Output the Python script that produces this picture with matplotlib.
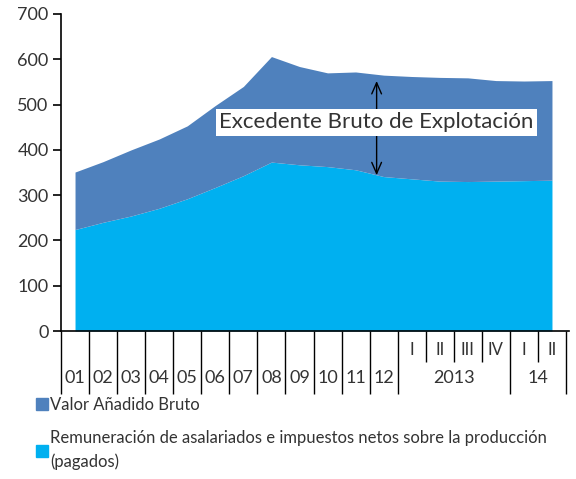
import matplotlib
matplotlib.use("Agg")
import matplotlib.pyplot as plt
from matplotlib.patches import Patch
from matplotlib.transforms import blended_transform_factory
import numpy as np

# Data
years = ['01', '02', '03', '04', '05', '06', '07', '08', '09', '10', '11', '12']
quarters = ['I', 'II', 'III', 'IV', 'I', 'II']
quarter_years = ['2013', '14']
vab = [351, 374, 400, 424, 453, 498, 540, 606, 584, 570, 572, 565,
       562, 560, 559, 553, 552, 553]
rem = [224, 240, 254, 271, 292, 317, 343, 373, 367, 363, 356, 341,
       336, 331, 330, 331, 332, 333]

dark_blue = '#4F81BD'
light_blue = '#00B0F0'
txt = '#333333'

plt.rcParams['font.family'] = ['Lato', 'DejaVu Sans']

fig = plt.figure(figsize=(5.76, 4.79), dpi=100)
ax = fig.add_axes([61/576, 1 - 331/479, 505/576, 317/479])

x = np.arange(len(vab))
ax.fill_between(x, 0, rem, color=light_blue, linewidth=0)
ax.fill_between(x, rem, vab, color=dark_blue, linewidth=0)

ax.set_xlim(-0.5, len(vab) - 0.5)
ax.set_ylim(0, 700)
ax.set_yticks(range(0, 701, 100))
ax.tick_params(axis='y', length=6, width=1.2, labelsize=13, labelcolor=txt,
               color='black', pad=3)
for s in ['top', 'right']:
    ax.spines[s].set_visible(False)
ax.spines['left'].set_linewidth(1.2)
ax.spines['bottom'].set_linewidth(1.2)
ax.spines['bottom'].set_bounds(-0.5, 17.6)

# category separators: long ticks for years/blocks, short for quarters
n_years = len(years)
long_b = [b - 0.5 for b in range(n_years + 1)] + [15.5, 17.5]
short_b = [12.5, 13.5, 14.5, 16.5]
ax.set_xticks(long_b)
ax.set_xticks(short_b, minor=True)
ax.set_xticklabels([])
ax.tick_params(axis='x', which='major', length=45, width=1.0, color='black')
ax.tick_params(axis='x', which='minor', length=22, width=1.0, color='black')

tr = blended_transform_factory(ax.transData, ax.transAxes)
for i, lab in enumerate(years):
    ax.text(i, -0.148, lab, transform=tr, ha='center', va='center',
            fontsize=13, color=txt)
for i, lab in enumerate(quarters):
    ax.text(n_years + i, -0.06, lab, transform=tr, ha='center', va='center',
            fontsize=12, color=txt)
ax.text(13.5, -0.148, quarter_years[0], transform=tr, ha='center', va='center',
        fontsize=13, color=txt)
ax.text(16.5, -0.148, quarter_years[1], transform=tr, ha='center', va='center',
        fontsize=13, color=txt)

# Excedente annotation
ax.annotate('', xy=(10.75, 552), xytext=(10.75, 344),
            arrowprops=dict(arrowstyle='<->,head_length=0.8,head_width=0.35',
                            color='black', lw=1.0, shrinkA=0, shrinkB=0))
ax.text(10.75, 461, 'Excedente Bruto de Explotación', ha='center', va='center',
        fontsize=16, color=txt, zorder=5,
        bbox=dict(boxstyle='square,pad=0.15', fc='white', ec='none'))

handles = [Patch(color=dark_blue), Patch(color=light_blue)]
labels = ['Valor Añadido Bruto',
          'Remuneración de asalariados e impuestos netos sobre la producción\n(pagados)']
leg = fig.legend(handles, labels, loc='upper left',
                 bbox_to_anchor=(36/576, 1 - 397/479), frameon=False,
                 fontsize=12, handlelength=0.7, handleheight=0.7,
                 handletextpad=0.15, labelspacing=1.0, borderpad=0,
                 borderaxespad=0)
for t in leg.get_texts():
    t.set_color(txt)
    t.set_linespacing(1.6)

fig.savefig('out.png', dpi=100)
